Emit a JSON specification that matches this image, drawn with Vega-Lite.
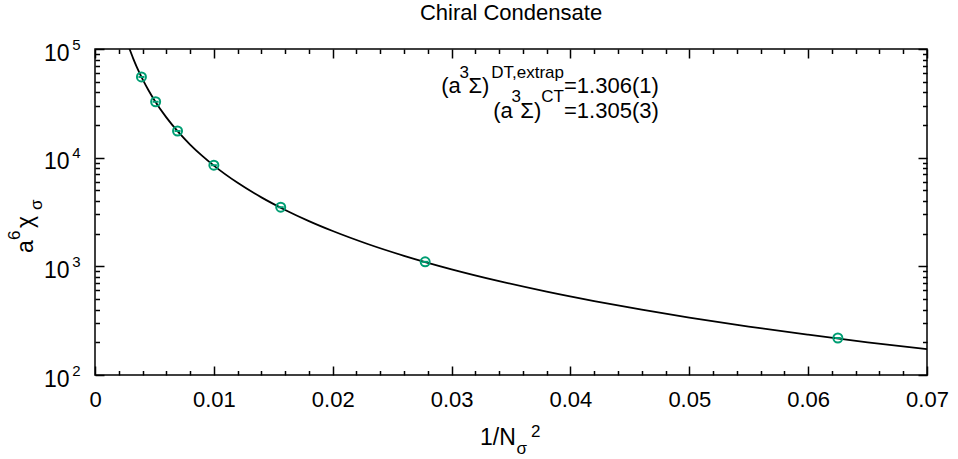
{
  "$schema": "https://vega.github.io/schema/vega-lite/v6.json",
  "width": 832,
  "height": 326,
  "autosize": {"type": "none"},
  "padding": {"left": 95, "top": 49, "right": 31, "bottom": 84},
  "background": "white",
  "title": {"text": "Chiral Condensate", "fontSize": 22, "fontWeight": "normal", "font": "Liberation Sans", "color": "black", "anchor": "middle", "baseline": "alphabetic", "offset": 12, "dy": 17},
  "datasets": {
    "curve": [
      {"x": 0.0029, "y": 100476},
      {"x": 0.0032, "y": 82520},
      {"x": 0.0035, "y": 68980},
      {"x": 0.004, "y": 52810},
      {"x": 0.0045, "y": 41730},
      {"x": 0.005, "y": 33800},
      {"x": 0.006, "y": 23470},
      {"x": 0.007, "y": 17240},
      {"x": 0.008, "y": 13200},
      {"x": 0.009, "y": 10430},
      {"x": 0.01, "y": 8450},
      {"x": 0.012, "y": 5868},
      {"x": 0.014, "y": 4311},
      {"x": 0.016, "y": 3301},
      {"x": 0.018, "y": 2608},
      {"x": 0.02, "y": 2113},
      {"x": 0.023, "y": 1597},
      {"x": 0.026, "y": 1250},
      {"x": 0.03, "y": 939},
      {"x": 0.034, "y": 731},
      {"x": 0.038, "y": 585},
      {"x": 0.042, "y": 479},
      {"x": 0.046, "y": 399},
      {"x": 0.05, "y": 338},
      {"x": 0.055, "y": 279},
      {"x": 0.06, "y": 235},
      {"x": 0.065, "y": 200},
      {"x": 0.07, "y": 173}
    ],
    "points": [
      {"x": 0.00390625, "y": 55300},
      {"x": 0.0051020, "y": 32700},
      {"x": 0.0069444, "y": 17600},
      {"x": 0.01, "y": 8520},
      {"x": 0.015625, "y": 3500},
      {"x": 0.0277778, "y": 1100},
      {"x": 0.0625, "y": 219}
    ]
  },
  "layer": [
    {
      "data": {"name": "curve"},
      "mark": {"type": "line", "color": "black", "strokeWidth": 1.8, "interpolate": "monotone", "clip": true},
      "encoding": {
        "x": {"field": "x", "type": "quantitative", "scale": {"type": "linear", "domain": [0, 0.07], "nice": false, "zero": false},
          "axis": {"orient": "bottom", "values": [0, 0.01, 0.02, 0.03, 0.04, 0.05, 0.06, 0.07], "format": ".2~f", "tickSize": -9, "tickWidth": 1.5, "tickColor": "black", "labelFontSize": 22, "labelFont": "Liberation Sans", "labelColor": "black", "labelPadding": 23, "labelFlush": false, "labelOverlap": false, "labelBound": false, "domain": false, "grid": false, "title": null}},
        "y": {"field": "y", "type": "quantitative", "scale": {"type": "log", "domain": [100, 100000], "nice": false},
          "axis": {"orient": "left", "values": [100, 1000, 10000, 100000], "labelExpr": "'10'", "tickSize": -9, "tickWidth": 1.5, "tickColor": "black", "labelFontSize": 23, "labelFont": "Liberation Sans", "labelColor": "black", "labelPadding": 35, "labelOffset": 4, "labelFlush": false, "labelOverlap": false, "labelBound": false, "domain": false, "grid": false, "title": null}}
      }
    },
    {
      "data": {"name": "points"},
      "mark": {"type": "point", "shape": "circle", "filled": false, "color": "#009e73", "strokeWidth": 2, "size": 81, "opacity": 1},
      "encoding": {
        "x": {"field": "x", "type": "quantitative", "scale": {"type": "linear", "domain": [0, 0.07], "nice": false, "zero": false},
          "axis": {"orient": "bottom", "values": [0.002, 0.004, 0.006, 0.008, 0.012, 0.014, 0.016, 0.018, 0.022, 0.024, 0.026, 0.028, 0.032, 0.034, 0.036, 0.038, 0.042, 0.044, 0.046, 0.048, 0.052, 0.054, 0.056, 0.058, 0.062, 0.064, 0.066, 0.068], "tickSize": -4.5, "tickWidth": 1.5, "tickColor": "black", "labels": false, "domain": false, "grid": false, "title": null}},
        "y": {"field": "y", "type": "quantitative", "scale": {"type": "log", "domain": [100, 100000], "nice": false},
          "axis": {"orient": "left", "values": [200, 300, 400, 500, 600, 700, 800, 900, 2000, 3000, 4000, 5000, 6000, 7000, 8000, 9000, 20000, 30000, 40000, 50000, 60000, 70000, 80000, 90000], "tickSize": -4.5, "tickWidth": 1.5, "tickColor": "black", "labels": false, "domain": false, "grid": false, "title": null}}
      }
    },
    {
      "data": {"name": "points"},
      "mark": {"type": "point", "shape": "stroke", "filled": false, "color": "#009e73", "strokeWidth": 2, "size": 36, "opacity": 1},
      "encoding": {
        "x": {"field": "x", "type": "quantitative", "scale": {"type": "linear", "domain": [0, 0.07], "nice": false, "zero": false},
          "axis": {"orient": "top", "values": [0, 0.01, 0.02, 0.03, 0.04, 0.05, 0.06, 0.07], "tickSize": -9, "tickWidth": 1.5, "tickColor": "black", "labels": false, "domain": false, "grid": false, "title": null}},
        "y": {"field": "y", "type": "quantitative", "scale": {"type": "log", "domain": [100, 100000], "nice": false},
          "axis": {"orient": "right", "values": [100, 1000, 10000, 100000], "tickSize": -9, "tickWidth": 1.5, "tickColor": "black", "labels": false, "domain": false, "grid": false, "title": null}}
      }
    },
    {
      "data": {"values": [{}]},
      "mark": {"type": "text", "text": "=1.306(1)", "align": "left", "baseline": "alphabetic", "fontSize": 22, "font": "Liberation Sans", "color": "black"},
      "encoding": {
        "x": {"datum": 0.039459, "type": "quantitative", "scale": {"type": "linear", "domain": [0, 0.07], "nice": false, "zero": false},
          "axis": {"orient": "top", "values": [0.002, 0.004, 0.006, 0.008, 0.012, 0.014, 0.016, 0.018, 0.022, 0.024, 0.026, 0.028, 0.032, 0.034, 0.036, 0.038, 0.042, 0.044, 0.046, 0.048, 0.052, 0.054, 0.056, 0.058, 0.062, 0.064, 0.066, 0.068], "tickSize": -4.5, "tickWidth": 1.5, "tickColor": "black", "labels": false, "domain": false, "grid": false, "title": null}},
        "y": {"datum": 39120, "type": "quantitative", "scale": {"type": "log", "domain": [100, 100000], "nice": false},
          "axis": {"orient": "right", "values": [200, 300, 400, 500, 600, 700, 800, 900, 2000, 3000, 4000, 5000, 6000, 7000, 8000, 9000, 20000, 30000, 40000, 50000, 60000, 70000, 80000, 90000], "tickSize": -4.5, "tickWidth": 1.5, "tickColor": "black", "labels": false, "domain": false, "grid": false, "title": null}}
      }
    },
    {
      "data": {"values": [{}]},
      "mark": {"type": "text", "text": "=1.305(3)", "align": "left", "baseline": "alphabetic", "fontSize": 22, "font": "Liberation Sans", "color": "black"},
      "encoding": {
        "x": {"datum": 0.039459, "type": "quantitative", "scale": {"type": "linear", "domain": [0, 0.07], "nice": false, "zero": false}, "axis": null},
        "y": {"datum": 23030, "type": "quantitative", "scale": {"type": "log", "domain": [100, 100000], "nice": false},
          "axis": {"orient": "left", "values": [100, 1000, 10000, 100000], "labelExpr": "datum.value < 500 ? '2' : datum.value < 5000 ? '3' : datum.value < 50000 ? '4' : '5'", "ticks": false, "labelFontSize": 15, "labelFont": "Liberation Sans", "labelColor": "black", "labelPadding": 15, "labelOffset": -5, "labelFlush": false, "labelOverlap": false, "labelBound": false, "domain": false, "grid": false, "title": null}}
      }
    },
    {
      "data": {"values": [{}]},
      "mark": {"type": "text", "text": "(a", "align": "right", "baseline": "alphabetic", "fontSize": 22, "font": "Liberation Sans", "color": "black"},
      "encoding": {
        "x": {"datum": 0.030767, "type": "quantitative", "scale": {"type": "linear", "domain": [0, 0.07], "nice": false, "zero": false}, "axis": null},
        "y": {"datum": 39120, "type": "quantitative", "scale": {"type": "log", "domain": [100, 100000], "nice": false}, "axis": null}
      }
    },
    {
      "data": {"values": [{}]},
      "mark": {"type": "text", "text": "3", "align": "right", "baseline": "alphabetic", "fontSize": 17, "font": "Liberation Sans", "color": "black"},
      "encoding": {
        "x": {"datum": 0.031466, "type": "quantitative", "scale": {"type": "linear", "domain": [0, 0.07], "nice": false, "zero": false}, "axis": null},
        "y": {"datum": 54440, "type": "quantitative", "scale": {"type": "log", "domain": [100, 100000], "nice": false}, "axis": null}
      }
    },
    {
      "data": {"values": [{}]},
      "mark": {"type": "text", "text": "Σ)", "align": "right", "baseline": "alphabetic", "fontSize": 22, "font": "Liberation Sans", "color": "black"},
      "encoding": {
        "x": {"datum": 0.033183, "type": "quantitative", "scale": {"type": "linear", "domain": [0, 0.07], "nice": false, "zero": false}, "axis": null},
        "y": {"datum": 39120, "type": "quantitative", "scale": {"type": "log", "domain": [100, 100000], "nice": false}, "axis": null}
      }
    },
    {
      "data": {"values": [{}]},
      "mark": {"type": "text", "text": "DT,extrap", "align": "right", "baseline": "alphabetic", "fontSize": 17, "font": "Liberation Sans", "color": "black"},
      "encoding": {
        "x": {"datum": 0.039459, "type": "quantitative", "scale": {"type": "linear", "domain": [0, 0.07], "nice": false, "zero": false}, "axis": null},
        "y": {"datum": 54440, "type": "quantitative", "scale": {"type": "log", "domain": [100, 100000], "nice": false}, "axis": null}
      }
    },
    {
      "data": {"values": [{}]},
      "mark": {"type": "text", "text": "(a", "align": "right", "baseline": "alphabetic", "fontSize": 22, "font": "Liberation Sans", "color": "black"},
      "encoding": {
        "x": {"datum": 0.035142, "type": "quantitative", "scale": {"type": "linear", "domain": [0, 0.07], "nice": false, "zero": false}, "axis": null},
        "y": {"datum": 23030, "type": "quantitative", "scale": {"type": "log", "domain": [100, 100000], "nice": false}, "axis": null}
      }
    },
    {
      "data": {"values": [{}]},
      "mark": {"type": "text", "text": "3", "align": "right", "baseline": "alphabetic", "fontSize": 17, "font": "Liberation Sans", "color": "black"},
      "encoding": {
        "x": {"datum": 0.035833, "type": "quantitative", "scale": {"type": "linear", "domain": [0, 0.07], "nice": false, "zero": false}, "axis": null},
        "y": {"datum": 32320, "type": "quantitative", "scale": {"type": "log", "domain": [100, 100000], "nice": false}, "axis": null}
      }
    },
    {
      "data": {"values": [{}]},
      "mark": {"type": "text", "text": "Σ)", "align": "right", "baseline": "alphabetic", "fontSize": 22, "font": "Liberation Sans", "color": "black"},
      "encoding": {
        "x": {"datum": 0.037549, "type": "quantitative", "scale": {"type": "linear", "domain": [0, 0.07], "nice": false, "zero": false}, "axis": null},
        "y": {"datum": 23030, "type": "quantitative", "scale": {"type": "log", "domain": [100, 100000], "nice": false}, "axis": null}
      }
    },
    {
      "data": {"values": [{}]},
      "mark": {"type": "text", "text": "CT", "align": "right", "baseline": "alphabetic", "fontSize": 17, "font": "Liberation Sans", "color": "black"},
      "encoding": {
        "x": {"datum": 0.039459, "type": "quantitative", "scale": {"type": "linear", "domain": [0, 0.07], "nice": false, "zero": false}, "axis": null},
        "y": {"datum": 32320, "type": "quantitative", "scale": {"type": "log", "domain": [100, 100000], "nice": false}, "axis": null}
      }
    },
    {
      "data": {"values": [{}]},
      "mark": {"type": "text", "text": "1/N", "align": "left", "baseline": "alphabetic", "fontSize": 23, "font": "Liberation Sans", "color": "black"},
      "encoding": {
        "x": {"datum": 0.03239, "type": "quantitative", "scale": {"type": "linear", "domain": [0, 0.07], "nice": false, "zero": false}, "axis": null},
        "y": {"datum": 22.69, "type": "quantitative", "scale": {"type": "log", "domain": [100, 100000], "nice": false}, "axis": null}
      }
    },
    {
      "data": {"values": [{}]},
      "mark": {"type": "text", "text": "σ", "align": "left", "baseline": "alphabetic", "fontSize": 17, "font": "Liberation Sans", "color": "black"},
      "encoding": {
        "x": {"datum": 0.03546, "type": "quantitative", "scale": {"type": "linear", "domain": [0, 0.07], "nice": false, "zero": false}, "axis": null},
        "y": {"datum": 18.75, "type": "quantitative", "scale": {"type": "log", "domain": [100, 100000], "nice": false}, "axis": null}
      }
    },
    {
      "data": {"values": [{}]},
      "mark": {"type": "text", "text": "2", "align": "left", "baseline": "alphabetic", "fontSize": 17, "font": "Liberation Sans", "color": "black"},
      "encoding": {
        "x": {"datum": 0.03668, "type": "quantitative", "scale": {"type": "linear", "domain": [0, 0.07], "nice": false, "zero": false}, "axis": null},
        "y": {"datum": 26.89, "type": "quantitative", "scale": {"type": "log", "domain": [100, 100000], "nice": false}, "axis": null}
      }
    },
    {
      "data": {"values": [{}]},
      "mark": {"type": "text", "text": "a", "angle": 270, "align": "left", "baseline": "alphabetic", "fontSize": 23, "font": "Liberation Sans", "color": "black"},
      "encoding": {
        "x": {"datum": -0.005191, "type": "quantitative", "scale": {"type": "linear", "domain": [0, 0.07], "nice": false, "zero": false}, "axis": null},
        "y": {"datum": 1327, "type": "quantitative", "scale": {"type": "log", "domain": [100, 100000], "nice": false}, "axis": null}
      }
    },
    {
      "data": {"values": [{}]},
      "mark": {"type": "text", "text": "6", "angle": 270, "align": "left", "baseline": "alphabetic", "fontSize": 17, "font": "Liberation Sans", "color": "black"},
      "encoding": {
        "x": {"datum": -0.00631, "type": "quantitative", "scale": {"type": "linear", "domain": [0, 0.07], "nice": false, "zero": false}, "axis": null},
        "y": {"datum": 1747, "type": "quantitative", "scale": {"type": "log", "domain": [100, 100000], "nice": false}, "axis": null}
      }
    },
    {
      "data": {"values": [{}]},
      "mark": {"type": "text", "text": "χ", "angle": 270, "align": "left", "baseline": "alphabetic", "fontSize": 23, "font": "Liberation Sans", "color": "black"},
      "encoding": {
        "x": {"datum": -0.005191, "type": "quantitative", "scale": {"type": "linear", "domain": [0, 0.07], "nice": false, "zero": false}, "axis": null},
        "y": {"datum": 2253, "type": "quantitative", "scale": {"type": "log", "domain": [100, 100000], "nice": false}, "axis": null}
      }
    },
    {
      "data": {"values": [{}]},
      "mark": {"type": "text", "text": "σ", "angle": 270, "align": "left", "baseline": "alphabetic", "fontSize": 17, "font": "Liberation Sans", "color": "black"},
      "encoding": {
        "x": {"datum": -0.004484, "type": "quantitative", "scale": {"type": "linear", "domain": [0, 0.07], "nice": false, "zero": false}, "axis": null},
        "y": {"datum": 3299, "type": "quantitative", "scale": {"type": "log", "domain": [100, 100000], "nice": false}, "axis": null}
      }
    }
  ],
  "resolve": {"axis": {"x": "independent", "y": "independent"}},
  "config": {
    "font": "Liberation Sans",
    "view": {"stroke": "black", "strokeWidth": 1.5},
    "axis": {"grid": false, "domain": false}
  }
}
